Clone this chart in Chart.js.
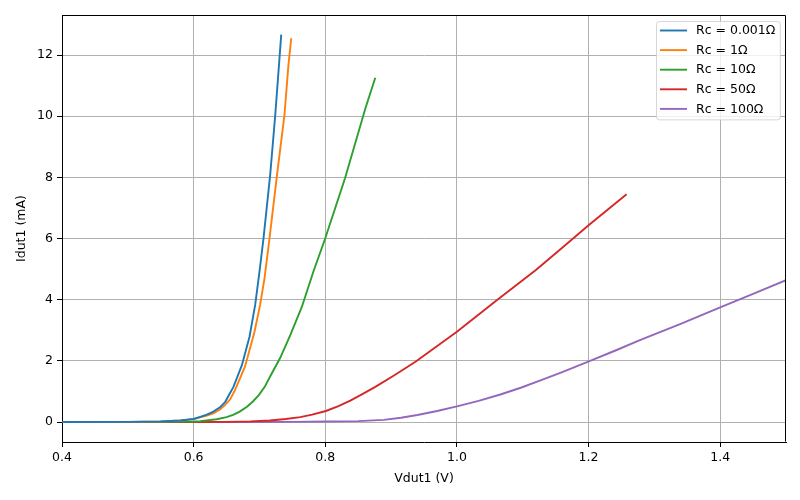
<!DOCTYPE html>
<html><head><meta charset="utf-8">
<script src="https://cdn.jsdelivr.net/npm/chart.js@4.4.0/dist/chart.umd.min.js"></script>
<style>html,body{margin:0;padding:0;background:#fff}#wrap{width:800px;height:500px}</style>
</head><body><div id="wrap"><canvas id="c" width="800" height="500"></canvas></div>
<script>
// ---- data ----
const seriesLabels = ['Rc = 0.001\u03A9', 'Rc = 1\u03A9', 'Rc = 10\u03A9', 'Rc = 50\u03A9', 'Rc = 100\u03A9'];
const seriesColors = ['#1f77b4', '#ff7f0e', '#2ca02c', '#d62728', '#9467bd'];

const vdutRc0001 = [0.40, 0.50, 0.55, 0.58, 0.60, 0.61, 0.62, 0.63, 0.64, 0.648, 0.6605, 0.6733, 0.6849, 0.6935, 0.700, 0.7062, 0.7163, 0.724, 0.7331];
const idutRc0001 = [0.00, 0.004, 0.015, 0.05, 0.10, 0.17, 0.24, 0.34, 0.48, 0.66, 1.15, 1.86, 2.79, 3.83, 4.91, 6.01, 8.08, 10.04, 12.67];

const vdutRc1 = [0.40, 0.50, 0.55, 0.58, 0.60, 0.61, 0.62, 0.63, 0.64, 0.648, 0.656, 0.663, 0.678, 0.6925, 0.701, 0.7077, 0.7153, 0.7265, 0.738, 0.744, 0.7483];
const idutRc1 = [0.00, 0.004, 0.015, 0.05, 0.095, 0.15, 0.21, 0.28, 0.41, 0.56, 0.76, 1.05, 1.81, 2.95, 3.83, 4.70, 6.01, 8.05, 10.04, 11.67, 12.55];

const vdutRc10 = [0.40, 0.55, 0.60, 0.61, 0.635, 0.65, 0.66, 0.67, 0.681, 0.69, 0.699, 0.708, 0.716, 0.7316, 0.747, 0.7645, 0.782, 0.800, 0.815, 0.830, 0.861, 0.876];
const idutRc10 = [0.00, 0.003, 0.015, 0.03, 0.09, 0.16, 0.23, 0.34, 0.50, 0.67, 0.88, 1.15, 1.48, 2.10, 2.85, 3.77, 4.92, 6.01, 6.99, 7.97, 10.26, 11.26];

const vdutRc50 = [0.40, 0.60, 0.65, 0.686, 0.716, 0.74, 0.762, 0.78, 0.801, 0.82, 0.838, 0.857, 0.876, 0.905, 0.937, 0.968, 1.000, 1.061, 1.120, 1.160, 1.2005, 1.2578];
const idutRc50 = [0.00, 0.00, 0.005, 0.02, 0.05, 0.10, 0.16, 0.24, 0.36, 0.52, 0.70, 0.92, 1.15, 1.53, 1.97, 2.45, 2.95, 3.99, 4.97, 5.70, 6.44, 7.45];

const vdutRc100 = [0.40, 0.70, 0.75, 0.80, 0.85, 0.889, 0.915, 0.94, 0.97, 1.00, 1.033, 1.066, 1.097, 1.127, 1.16, 1.2005, 1.24, 1.278, 1.34, 1.40, 1.45, 1.50];
const idutRc100 = [0.00, 0.00, 0.005, 0.015, 0.03, 0.07, 0.14, 0.23, 0.36, 0.51, 0.69, 0.90, 1.12, 1.36, 1.63, 1.98, 2.33, 2.68, 3.21, 3.75, 4.19, 4.64];

const xTicks = [0.4, 0.6, 0.8, 1.0, 1.2, 1.4];
const yTicks = [0, 2, 4, 6, 8, 10, 12];
const xLimits = [0.4, 1.5];
const yLimits = [-0.654, 13.31];
const xTitle = 'Vdut1 (V)';
const yTitle = 'Idut1 (mA)';

// ---- build chart ----
const seriesX = [vdutRc0001, vdutRc1, vdutRc10, vdutRc50, vdutRc100];
const seriesY = [idutRc0001, idutRc1, idutRc10, idutRc50, idutRc100];
const FONT = 'DejaVu Sans';
const FS = 12.5;

const datasets = seriesLabels.map((lab, i) => ({
  label: lab,
  data: seriesX[i].map((x, j) => ({x: x, y: seriesY[i][j]})),
  borderColor: seriesColors[i],
  backgroundColor: seriesColors[i],
  borderWidth: 1.9,
  pointRadius: 0,
  tension: 0,
  showLine: true,
  fill: false
}));

const framePlugin = {
  id: 'frame',
  afterDraw(chart) {
    const {ctx, chartArea: a} = chart;
    ctx.save();
    ctx.strokeStyle = '#000';
    ctx.lineWidth = 1;
    ctx.beginPath();
    const l = Math.round(a.left) + 0.5, r = Math.round(a.right) - 0.5;
    const t = Math.round(a.top) + 0.5, b = Math.round(a.bottom) - 0.5;
    ctx.moveTo(l, t); ctx.lineTo(r, t); ctx.lineTo(r, b);
    ctx.stroke();
    ctx.restore();
  }
};

const legendPlugin = {
  id: 'insideLegend',
  afterDraw(chart) {
    const {ctx, chartArea: a} = chart;
    const ds = chart.data.datasets;
    ctx.save();
    ctx.font = FS + 'px "' + FONT + '"';
    const tw = Math.max(...ds.map(d => ctx.measureText(d.label).width));
    const padL = 3.5, lineLen = 27, gap = 9, padR = 5, rowH = 19.6, padT = 9;
    const w = padL + lineLen + gap + tw + padR;
    const h = padT * 2 + rowH * (ds.length - 1) + 2;
    const x0 = Math.round(a.right - 6.5 - w) + 0.5, y0 = Math.round(a.top + 6) + 0.5;
    const rr = 3;
    ctx.beginPath();
    ctx.moveTo(x0 + rr, y0);
    ctx.lineTo(x0 + w - rr, y0); ctx.arcTo(x0 + w, y0, x0 + w, y0 + rr, rr);
    ctx.lineTo(x0 + w, y0 + h - rr); ctx.arcTo(x0 + w, y0 + h, x0 + w - rr, y0 + h, rr);
    ctx.lineTo(x0 + rr, y0 + h); ctx.arcTo(x0, y0 + h, x0, y0 + h - rr, rr);
    ctx.lineTo(x0, y0 + rr); ctx.arcTo(x0, y0, x0 + rr, y0, rr);
    ctx.closePath();
    ctx.fillStyle = 'rgba(255,255,255,0.8)';
    ctx.fill();
    ctx.strokeStyle = 'rgba(204,204,204,0.8)';
    ctx.lineWidth = 1;
    ctx.stroke();
    ds.forEach((d, i) => {
      const y = y0 + padT + i * rowH;
      ctx.strokeStyle = d.borderColor;
      ctx.lineWidth = 1.9;
      ctx.beginPath();
      ctx.moveTo(x0 + padL, y); ctx.lineTo(x0 + padL + lineLen, y);
      ctx.stroke();
      ctx.fillStyle = '#000';
      ctx.textBaseline = 'middle';
      ctx.textAlign = 'left';
      ctx.fillText(d.label, x0 + padL + lineLen + gap, y + 0.5);
    });
    ctx.restore();
  }
};

new Chart(document.getElementById('c'), {
  type: 'scatter',
  data: {datasets: datasets},
  plugins: [framePlugin, legendPlugin],
  options: {
    responsive: false,
    animation: false,
    devicePixelRatio: 1,
    layout: {padding: {top: 15, right: 14, left: 0, bottom: 0}},
    plugins: {legend: {display: false}, tooltip: {enabled: false}},
    scales: {
      x: {
        type: 'linear', min: xLimits[0], max: xLimits[1],
        afterBuildTicks: s => { s.ticks = xTicks.map(v => ({value: v})); },
        afterFit: s => { s.height = 58; },
        ticks: {color: '#000', padding: 3, maxRotation: 0, autoSkip: false,
                callback: v => Number(v).toFixed(1), font: {family: FONT, size: FS}},
        grid: {color: '#b0b0b0', lineWidth: 1, tickColor: '#000', tickLength: 5, tickWidth: 1},
        border: {display: true, color: '#000', width: 1},
        title: {display: true, text: xTitle, color: '#000', padding: {top: 0, bottom: 14},
                font: {family: FONT, size: FS}}
      },
      y: {
        type: 'linear', min: yLimits[0], max: yLimits[1],
        afterBuildTicks: s => { s.ticks = yTicks.map(v => ({value: v})); },
        afterFit: s => { s.width = 62; },
        ticks: {color: '#000', padding: 4, autoSkip: false,
                callback: v => String(Math.round(v)), font: {family: FONT, size: FS}},
        grid: {color: '#b0b0b0', lineWidth: 1, tickColor: '#000', tickLength: 5, tickWidth: 1},
        border: {display: true, color: '#000', width: 1},
        title: {display: true, text: yTitle, color: '#000', padding: {top: 14, bottom: 0},
                font: {family: FONT, size: FS}}
      }
    }
  }
});
</script></body></html>
